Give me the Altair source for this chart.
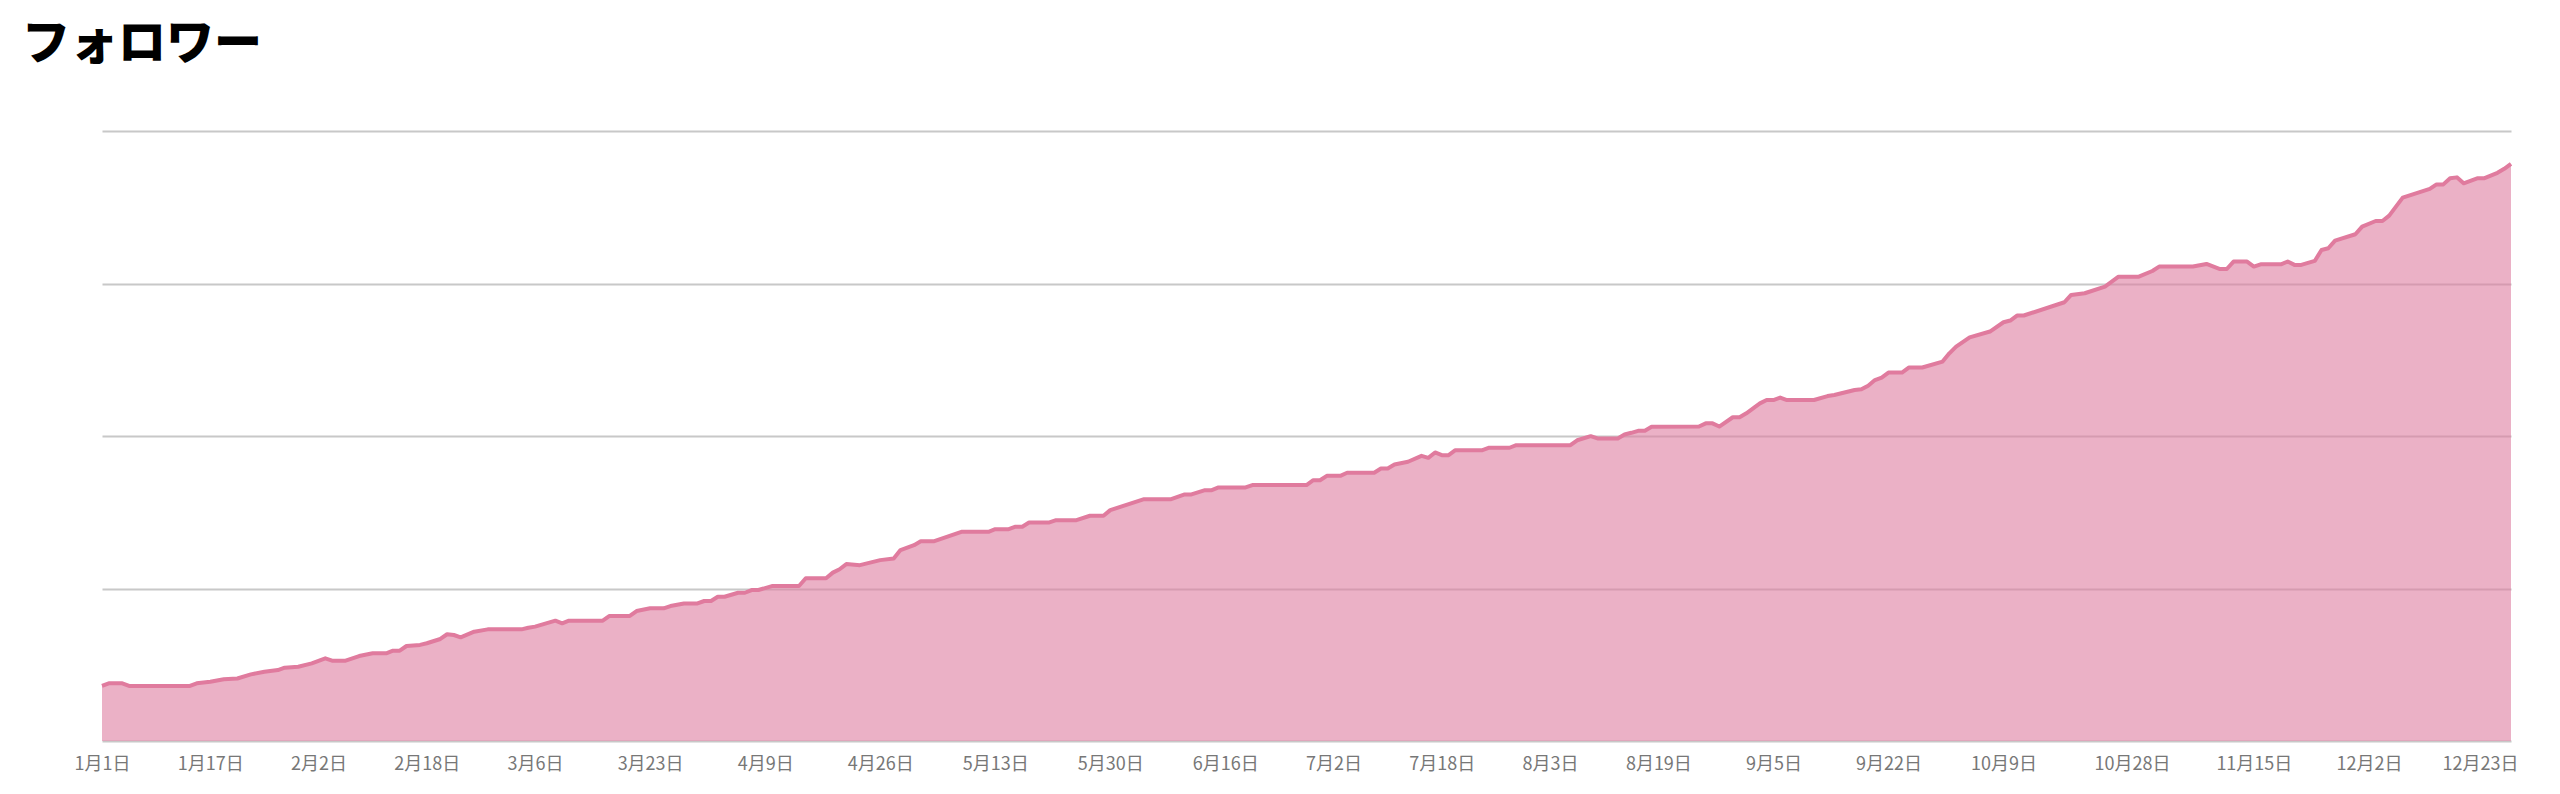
import altair as alt
import pandas as pd

TITLE = "フォロワー"
YEAR_START = "2023-01-01"

# day offset from Jan 1 (read from the x positions) and follower counts
DAY_OFFSETS = [0, 1, 3, 4, 13, 14, 16, 18, 20, 22, 24, 26, 27, 29, 31, 33, 34, 36, 38, 40,
               42, 43, 44, 45, 47, 48, 50, 51, 52, 53, 55, 57, 62, 63, 64, 67, 68, 69, 74, 75,
               78, 79, 81, 83, 84, 86, 88, 89, 90, 91, 92, 94, 95, 96, 97, 99, 103, 104, 107, 108,
               109, 110, 112, 115, 117, 118, 120, 121, 123, 127, 131, 132, 134, 135, 136, 137, 140, 141, 144, 146,
               148, 149, 154, 158, 160, 161, 163, 164, 165, 169, 170, 178, 179, 180, 181, 183, 184, 188, 189, 190,
               191, 193, 195, 196, 197, 198, 199, 200, 204, 205, 208, 209, 217, 218, 220, 221, 224, 225, 226, 227,
               228, 229, 236, 237, 238, 239, 241, 242, 243, 245, 246, 247, 248, 249, 253, 255, 256, 259, 260, 261,
               262, 263, 264, 266, 267, 269, 272, 273, 274, 276, 279, 281, 282, 283, 284, 290, 291, 293, 296, 298,
               301, 303, 304, 309, 311, 313, 314, 315, 317, 318, 319, 322, 323, 324, 325, 327, 328, 329, 330, 333,
               334, 336, 337, 338, 339, 340, 344, 345, 346, 347, 348, 349, 351, 352, 354, 355, 356]

FOLLOWERS = [361, 378, 378, 361, 361, 378, 389, 405, 410, 437, 454, 465, 481, 487, 509, 542, 527, 527, 557, 575,
             575, 592, 592, 623, 630, 641, 669, 700, 695, 680, 717, 732, 732, 743, 750, 789, 772, 789, 789, 820,
             820, 852, 870, 870, 885, 902, 902, 918, 918, 946, 946, 972, 972, 990, 990, 1016, 1016, 1067, 1067, 1104,
             1126, 1160, 1153, 1186, 1197, 1252, 1284, 1310, 1310, 1372, 1372, 1389, 1389, 1405, 1405, 1433, 1433, 1448, 1448, 1477,
             1477, 1514, 1586, 1586, 1617, 1617, 1645, 1645, 1663, 1663, 1678, 1678, 1710, 1710, 1739, 1739, 1759, 1759, 1787, 1787,
             1813, 1831, 1870, 1857, 1892, 1874, 1874, 1907, 1907, 1923, 1923, 1940, 1940, 1972, 1999, 1984, 1984, 2010, 2021, 2034,
             2034, 2060, 2062, 2083, 2083, 2062, 2123, 2123, 2149, 2214, 2236, 2236, 2252, 2236, 2236, 2262, 2269, 2302, 2306, 2330,
             2367, 2383, 2416, 2416, 2449, 2449, 2488, 2542, 2586, 2647, 2685, 2746, 2757, 2790, 2790, 2877, 2925, 2936, 2980, 3045,
             3045, 3082, 3111, 3111, 3128, 3095, 3095, 3144, 3144, 3111, 3126, 3126, 3144, 3122, 3122, 3148, 3220, 3231, 3281, 3323,
             3373, 3410, 3410, 3445, 3504, 3563, 3620, 3650, 3650, 3690, 3696, 3657, 3690, 3690, 3726, 3752, 3785]

TICK_DATES = ["2023-01-01", "2023-01-17", "2023-02-02", "2023-02-18", "2023-03-06", "2023-03-23",
              "2023-04-09", "2023-04-26", "2023-05-13", "2023-05-30", "2023-06-16", "2023-07-02",
              "2023-07-18", "2023-08-03", "2023-08-19", "2023-09-05", "2023-09-22", "2023-10-09",
              "2023-10-28", "2023-11-15", "2023-12-02", "2023-12-23"]

Y_GRID = [0, 1000, 2000, 3000, 4000]

assert len(DAY_OFFSETS) == len(FOLLOWERS)

base = pd.Timestamp(YEAR_START)
dates = [(base + pd.Timedelta(days=d)).strftime("%Y-%m-%d") for d in DAY_OFFSETS]
df = pd.DataFrame({"date": dates, "followers": FOLLOWERS})

tick_ms = [int(pd.Timestamp(d, tz="UTC").timestamp() * 1000) for d in TICK_DATES]
last_ms = tick_ms[-1]

LINE = "#e07b9e"
FONT = "Noto Sans CJK JP"

chart = alt.Chart(df).mark_area(
    color="#de7da0",
    fillOpacity=0.6,
    line={"color": LINE, "strokeWidth": 4, "strokeJoin": "round"},
).encode(
    x=alt.X(
        "date:T",
        scale=alt.Scale(nice=False),
        axis=alt.Axis(
            values=tick_ms,
            labelExpr="(utcmonth(datum.value)+1) + '月' + utcdate(datum.value) + '日'",
            title=None,
            grid=False,
            domain=False,
            ticks=False,
            labelFont=FONT,
            labelFontSize=18,
            labelColor="#777777",
            labelPadding=14,
            labelOverlap=False,
            labelFlush=False,
            labelOffset={"condition": {"test": f"datum.value >= {last_ms}", "value": -31}, "value": 0},
        ),
    ),
    y=alt.Y(
        "followers:Q",
        scale=alt.Scale(domain=[0, 4000], nice=False),
        axis=alt.Axis(
            values=Y_GRID,
            labels=False,
            ticks=False,
            domain=False,
            grid=True,
            gridColor="#c8c8c8",
            gridWidth=2,
            title=None,
        ),
    ),
).properties(
    width=2409,
    height=610,
    autosize="none",
    padding={"left": 94, "top": 123, "right": 40, "bottom": 45},
    title=alt.TitleParams(
        TITLE,
        anchor="start",
        frame="group",
        font=FONT,
        fontSize=48,
        fontWeight=900,
        color="#000000",
        dx=-80,
        offset=62,
    ),
).configure_view(stroke=None)

chart.save("out.html", embed_options={"renderer": "svg", "actions": False})
